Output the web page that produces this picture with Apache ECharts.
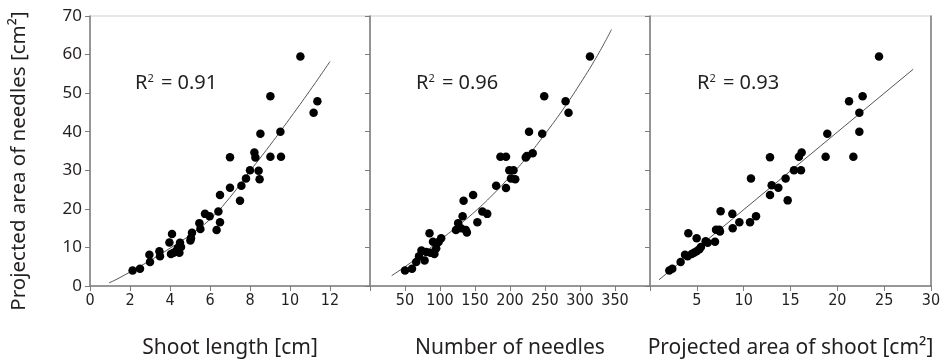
<!DOCTYPE html>
<html>
<head>
<meta charset="utf-8">
<script src="https://cdn.jsdelivr.net/npm/echarts@6/dist/echarts.min.js"></script>
<style>
  html, body { margin: 0; padding: 0; background: #fff; }
  #chart { width: 948px; height: 364px; }
</style>
</head>
<body>
<div id="chart"></div>
<script>
// panel 1: shoot length [cm] vs projected needle area
var lenX = [2.13,2.5,2.97,3.0,3.47,3.5,3.97,4.1,4.05,4.18,4.3,4.38,4.5,4.47,4.55,5.02,5.1,5.05,5.47,5.52,5.75,5.98,6.33,6.42,6.5,6.5,7.0,7.0,7.5,7.57,7.8,8.0,8.22,8.27,8.43,8.48,8.52,9.02,9.02,9.52,9.55,10.52,11.18,11.37];
var lenY = [4.0,4.5,8.1,6.2,9.0,7.7,11.3,13.5,8.3,8.6,8.9,9.8,11.2,8.6,10.1,11.8,13.8,12.4,16.3,14.8,18.7,18.1,14.5,19.3,23.6,16.5,25.5,33.4,22.1,26.0,27.9,30.0,34.6,33.3,29.9,27.7,39.5,49.2,33.5,40.0,33.5,59.5,44.9,47.9];
var lenFitX = [0.95,1.5,3,4,5,6,7,8,9,10,11,12];
var lenFitY = [0.8,2.2,6.6,9.8,13.2,17.3,23.0,29.8,36.5,43.5,50.7,58.2];

// panel 2: number of needles
var needX = [50,60,66,70,73.5,78,80.5,85,86.5,90,92,94.6,98,101.7,122.8,126,130,132.3,133.7,137,138.4,147.3,153.4,160.5,167.5,180.2,186.3,194.3,194.3,199,205,201.4,207.5,222.5,224,227.2,232.4,246,248.9,279.4,283.6,314.2];
var needY = [4.0,4.5,6.2,7.7,9.2,6.6,8.8,13.7,8.6,11.5,8.3,9.8,11.4,12.4,14.5,16.3,15.0,18.1,22.1,14.5,13.9,23.6,16.5,19.3,18.7,26.0,33.5,33.5,25.4,30.0,30.0,27.9,27.7,33.3,33.7,40.0,34.4,39.5,49.2,47.9,44.9,59.5];
var needFitX = [31,50,75,100,125,150,175,200,225,250,275,300,325,345];
var needFitY = [2.7,5.0,8.3,11.9,15.5,19.3,23.6,28.4,33.6,39.4,45.6,52.4,59.8,66.5];

// panel 3: projected area of shoot [cm2]
var areaX = [2.06,2.38,3.27,3.74,4.02,4.09,4.45,4.7,4.98,4.98,5.27,5.44,5.94,6.16,6.94,7.05,7.4,7.47,7.54,8.79,8.83,9.54,10.68,10.78,11.32,12.81,12.81,12.99,13.7,14.48,14.7,15.37,15.9,16.12,16.19,18.75,18.93,21.25,21.71,22.35,22.35,22.7,24.45];
var areaY = [4.0,4.5,6.2,8.1,7.7,13.7,8.3,8.6,9.0,12.4,9.5,10.1,11.6,11.2,11.5,14.6,14.6,14.1,19.4,18.7,15.0,16.5,16.5,27.9,18.1,33.4,23.6,26.1,25.5,27.9,22.2,30.0,33.5,30.0,34.6,33.5,39.5,47.9,33.5,44.9,40.0,49.2,59.5];
var areaFitX = [0.96,28.1];
var areaFitY = [1.6,56.2];

var r2Labels = ['0.91','0.96','0.93'];
var xTitles = ['Shoot length [cm]','Number of needles','Projected area of shoot [cm\u00b2]'];
var yTitle = 'Projected area of needles [cm\u00b2]';

function pairs(xs, ys) {
  return xs.map(function (x, i) { return [x, ys[i]]; });
}

var axisGray = '#7d7d7d';
var txt = '#231f20';
var narrow = "'Liberation Sans Narrow', 'DejaVu Sans Condensed', sans-serif";

var myChart = echarts.init(document.getElementById('chart'));

function xAx(idx, max, step, hide) {
  return {
    gridIndex: idx,
    type: 'value',
    min: 0, max: max, interval: step,
    name: xTitles[idx],
    nameLocation: 'middle',
    nameGap: 52,
    nameTextStyle: { fontFamily: 'Noto Sans', fontSize: 21, color: txt },
    axisLine: { lineStyle: { color: axisGray, width: 1.5 } },
    axisTick: { length: 5, lineStyle: { color: axisGray } },
    axisLabel: {
      fontFamily: narrow, fontSize: 16, color: txt, margin: 7,
      formatter: function (v) { return hide.indexOf(v) >= 0 ? '' : String(v); }
    },
    splitLine: { show: false }
  };
}

function yAx(idx, labels) {
  return {
    gridIndex: idx,
    type: 'value',
    min: 0, max: 70, interval: 10,
    name: labels ? yTitle : '',
    nameLocation: 'middle',
    nameGap: 60,
    nameTextStyle: { fontFamily: 'Noto Sans', fontSize: 20.5, color: txt, padding: [0, 20, 0, 0] },
    axisLine: { show: true, lineStyle: { color: axisGray, width: 1.5 } },
    axisTick: { show: true, length: 5, lineStyle: { color: axisGray } },
    axisLabel: { show: labels, fontFamily: 'Noto Sans', fontSize: 17, color: txt, margin: 8 },
    splitLine: { show: false }
  };
}

function r2Title(i, left) {
  return {
    text: '{r|R}{s|2}{r| = ' + r2Labels[i] + '}',
    left: left, top: 68,
    textStyle: {
      fontWeight: 'normal',
      rich: {
        r: { fontFamily: 'Noto Sans', fontSize: 20, fontWeight: 'normal', color: txt },
        s: { fontFamily: 'Noto Sans', fontSize: 11, fontWeight: 'normal', color: txt, verticalAlign: 'top', padding: [0, 2, 8, 0] }
      }
    }
  };
}

var option = {
  backgroundColor: '#fff',
  animation: false,
  title: [r2Title(0, 130), r2Title(1, 411), r2Title(2, 692)],
  grid: [
    { left: 90, top: 16, width: 280, height: 271, show: true, borderColor: '#cfcfcf', borderWidth: 1 },
    { left: 370, top: 16, width: 280, height: 271, show: true, borderColor: '#cfcfcf', borderWidth: 1 },
    { left: 650, top: 16, width: 281, height: 271, show: true, borderColor: '#cfcfcf', borderWidth: 1 }
  ],
  xAxis: [
    xAx(0, 14, 2, [14]),
    xAx(1, 400, 50, [0, 400]),
    xAx(2, 30, 5, [0])
  ],
  yAxis: [
    yAx(0, true),
    yAx(1, false),
    yAx(2, false),
    {
      gridIndex: 2, type: 'value', position: 'right', min: 0, max: 70,
      axisLine: { show: true, lineStyle: { color: axisGray, width: 1.5 } },
      axisTick: { show: false }, axisLabel: { show: false }, splitLine: { show: false }
    }
  ],
  series: [
    { type: 'line', xAxisIndex: 0, yAxisIndex: 0, data: pairs(lenFitX, lenFitY), smooth: true, showSymbol: false, lineStyle: { color: '#555', width: 1 }, z: 1 },
    { type: 'scatter', xAxisIndex: 0, yAxisIndex: 0, data: pairs(lenX, lenY), symbolSize: 8.5, itemStyle: { color: '#000', opacity: 1 }, z: 2 },
    { type: 'line', xAxisIndex: 1, yAxisIndex: 1, data: pairs(needFitX, needFitY), smooth: true, showSymbol: false, lineStyle: { color: '#555', width: 1 }, z: 1 },
    { type: 'scatter', xAxisIndex: 1, yAxisIndex: 1, data: pairs(needX, needY), symbolSize: 8.5, itemStyle: { color: '#000', opacity: 1 }, z: 2 },
    { type: 'line', xAxisIndex: 2, yAxisIndex: 2, data: pairs(areaFitX, areaFitY), showSymbol: false, lineStyle: { color: '#555', width: 1 }, z: 1 },
    { type: 'scatter', xAxisIndex: 2, yAxisIndex: 2, data: pairs(areaX, areaY), symbolSize: 8.5, itemStyle: { color: '#000', opacity: 1 }, z: 2 }
  ]
};

option && myChart.setOption(option);
</script>
</body>
</html>
